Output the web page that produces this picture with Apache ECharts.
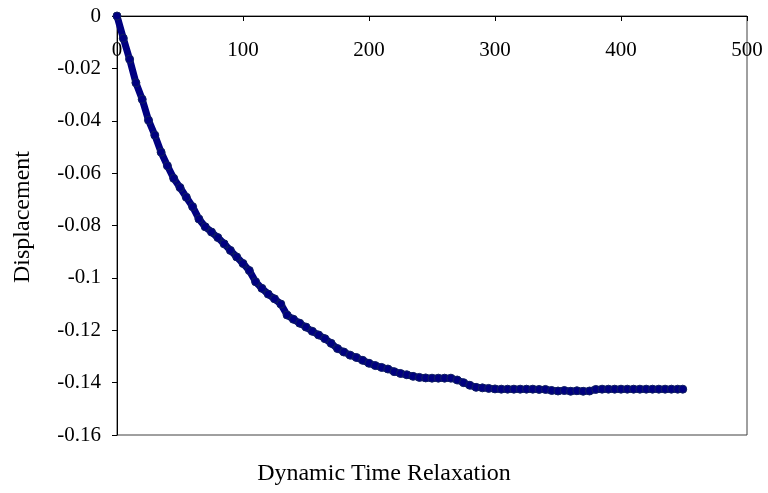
<!DOCTYPE html>
<html>
<head>
<meta charset="utf-8">
<script src="https://cdn.jsdelivr.net/npm/echarts@6/dist/echarts.min.js"></script>
<style>
  html, body { margin: 0; padding: 0; background: #ffffff; }
  #chart { width: 768px; height: 493px; }
</style>
</head>
<body>
<div id="chart"></div>
<script>
// Relaxation step (x) and nodal displacement (y)
const steps = [
  0, 5, 10, 15, 20, 25, 30, 35, 40, 45,
  50, 55, 60, 65, 70, 75, 80, 85, 90, 95,
  100, 105, 110, 115, 120, 125, 130, 135, 140, 145,
  150, 155, 160, 165, 170, 175, 180, 185, 190, 195,
  200, 205, 210, 215, 220, 225, 230, 235, 240, 245,
  250, 255, 260, 265, 270, 275, 280, 285, 290, 295,
  300, 305, 310, 315, 320, 325, 330, 335, 340, 345,
  350, 355, 360, 365, 370, 375, 380, 385, 390, 395,
  400, 405, 410, 415, 420, 425, 430, 435, 440, 445, 449
];
const displacement = [
  0, -0.0085, -0.0165, -0.0255, -0.0318, -0.0398, -0.0455, -0.0520, -0.0572, -0.0620,
  -0.0655, -0.0692, -0.0728, -0.0775, -0.0805, -0.0825, -0.0846, -0.0870, -0.0895, -0.0920,
  -0.0945, -0.0972, -0.1015, -0.1040, -0.1062, -0.1080, -0.1100, -0.1142, -0.1158, -0.1173,
  -0.1188, -0.1204, -0.1218, -0.1232, -0.1250, -0.1270, -0.1283, -0.1295, -0.1304, -0.1315,
  -0.1326, -0.1335, -0.1342, -0.1348, -0.1358, -0.1365, -0.1370, -0.1376, -0.1380, -0.1382,
  -0.1383, -0.1383, -0.1383, -0.1383, -0.1390, -0.1400, -0.1410, -0.1418, -0.1420, -0.1422,
  -0.1424, -0.1425, -0.1425, -0.1425, -0.1425, -0.1425, -0.1425, -0.1426, -0.1426, -0.1430,
  -0.1432, -0.1430, -0.1433, -0.1431, -0.1433, -0.1432, -0.1426, -0.1425, -0.1425, -0.1425,
  -0.1425, -0.1425, -0.1425, -0.1425, -0.1425, -0.1425, -0.1425, -0.1425, -0.1425, -0.1425, -0.1425
];
const xTicks = [0, 100, 200, 300, 400, 500];
const yTicks = [0, -0.02, -0.04, -0.06, -0.08, -0.1, -0.12, -0.14, -0.16];

const xTitle = 'Dynamic Time Relaxation';
const yTitle = 'Displacement';

const FONT = '"Liberation Serif", "Times New Roman", serif';

const chart = echarts.init(document.getElementById('chart'), null, { renderer: 'canvas' });

chart.setOption({
  animation: false,
  backgroundColor: '#ffffff',
  grid: {
    left: 117, right: 21, top: 16, bottom: 58,
    show: true,
    borderColor: '#404040',
    borderWidth: 1,
    backgroundColor: 'transparent'
  },
  // The horizontal axis sits on the zero line at the top of the plot,
  // with its ticks and labels hanging below it.
  xAxis: {
    type: 'value',
    position: 'top',
    min: xTicks[0],
    max: xTicks[xTicks.length - 1],
    interval: xTicks[1] - xTicks[0],
    axisLine: { show: true, onZero: false, lineStyle: { color: '#000000', width: 1 } },
    axisTick: { show: true, inside: true, length: 5, lineStyle: { color: '#000000' } },
    axisLabel: { inside: true, margin: 24, color: '#000000', fontFamily: FONT, fontSize: 21 },
    splitLine: { show: false }
  },
  yAxis: {
    type: 'value',
    min: yTicks[yTicks.length - 1],
    max: yTicks[0],
    interval: 0.02,
    axisLine: { show: true, lineStyle: { color: '#000000', width: 1 } },
    axisTick: { show: true, length: 5, lineStyle: { color: '#000000' } },
    axisLabel: {
      margin: 16, color: '#000000', fontFamily: FONT, fontSize: 21,
      formatter: v => String(+v.toFixed(2))
    },
    splitLine: { show: false }
  },
  graphic: [
    {
      type: 'text', left: 'center', top: 462,
      style: { text: xTitle, fill: '#000000', font: '24px ' + FONT },
      x: 38
    },
    {
      type: 'text', x: 11, y: 217, rotation: Math.PI / 2,
      style: { text: yTitle, fill: '#000000', font: '24px ' + FONT, align: 'center', verticalAlign: 'top' }
    }
  ],
  series: [{
    type: 'line',
    data: steps.map((s, i) => [s, displacement[i]]),
    symbol: 'circle',
    symbolSize: 8,
    showAllSymbol: true,
    itemStyle: { color: '#000080', borderColor: '#102060', borderWidth: 1 },
    lineStyle: { color: '#000080', width: 7, cap: 'round', join: 'round' },
    emphasis: { disabled: true }
  }]
});
</script>
</body>
</html>
